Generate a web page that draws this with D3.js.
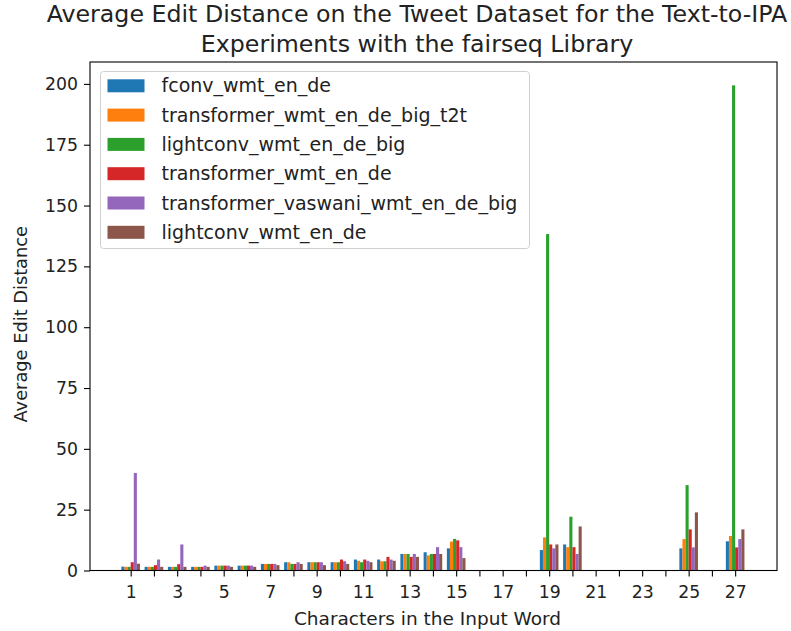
<!DOCTYPE html>
<html>
<head>
<meta charset="utf-8">
<script src="https://cdn.jsdelivr.net/npm/d3@7"></script>
<style>
  html, body { margin: 0; padding: 0; background: #fff; }
  svg { display: block; font-family: "DejaVu Sans", sans-serif; }
</style>
</head>
<body>
<svg id="chart" width="791" height="631"></svg>
<script>
// Word lengths (characters) for which an average was measured
const lengths = [1, 2, 3, 4, 5, 6, 7, 8, 9, 10, 11, 12, 13, 14, 15, 19, 20, 25, 27];

// Average edit distance per model, one value per entry of `lengths`
const fconvWmtEnDe =            [1.6, 1.5, 1.5, 1.5, 2.0, 2.0, 2.7, 3.4, 3.4, 3.4, 4.5, 4.5, 6.8, 7.5, 9.1, 8.4, 10.7, 9.1, 12.0];
const transformerWmtEnDeBigT2t = [1.5, 1.5, 1.5, 1.5, 2.0, 2.0, 2.7, 3.4, 3.4, 3.4, 4.0, 3.8, 6.8, 6.2, 11.9, 13.6, 9.6, 12.9, 14.2];
const lightconvWmtEnDeBig =     [1.5, 1.5, 1.5, 1.5, 2.0, 2.0, 2.7, 2.7, 3.4, 3.4, 3.4, 3.8, 6.8, 6.8, 13.0, 138.3, 22.1, 35.1, 199.4];
const transformerWmtEnDe =      [3.4, 2.2, 2.6, 1.5, 2.0, 2.0, 2.7, 2.7, 3.4, 4.5, 4.5, 5.6, 5.6, 6.8, 12.4, 10.7, 9.6, 16.9, 9.5];
const transformerVaswaniBig =   [40.1, 4.5, 10.7, 2.0, 2.0, 2.0, 2.7, 3.4, 3.4, 3.8, 4.0, 4.5, 6.8, 9.6, 9.6, 9.1, 6.8, 9.5, 12.9];
const lightconvWmtEnDe =        [2.8, 1.5, 1.5, 1.5, 1.5, 1.5, 2.2, 2.7, 2.2, 2.7, 3.4, 4.0, 5.6, 6.8, 5.1, 10.7, 18.1, 23.9, 16.9];

const seriesNames = [
  "fconv_wmt_en_de",
  "transformer_wmt_en_de_big_t2t",
  "lightconv_wmt_en_de_big",
  "transformer_wmt_en_de",
  "transformer_vaswani_wmt_en_de_big",
  "lightconv_wmt_en_de"
];
const seriesValues = [
  fconvWmtEnDe, transformerWmtEnDeBigT2t, lightconvWmtEnDeBig,
  transformerWmtEnDe, transformerVaswaniBig, lightconvWmtEnDe
];
const colors = ["#1f77b4", "#ff7f0e", "#2ca02c", "#d62728", "#9467bd", "#8c564b"];

const xTickValues = d3.range(1, 28);          // a tick at every length
const xTickLabels = d3.range(1, 28, 2);       // labels on odd lengths only
const yTickValues = d3.range(0, 201, 25);

const titleLines = [
  "Average Edit Distance on the Tweet Dataset for the Text-to-IPA",
  "Experiments with the fairseq Library"
];
const xLabel = "Characters in the Input Word";
const yLabel = "Average Edit Distance";

// ---- layout ----
const svg = d3.select("#chart");
const plot = { left: 90, right: 777, top: 62, bottom: 570.5 };

const x = d3.scaleLinear().domain([-0.75, 28.8]).range([plot.left, plot.right]);
const y = d3.scaleLinear().domain([0, 209]).range([plot.bottom, plot.top]);

const groupWidth = 0.8;
const barWidth = groupWidth / seriesNames.length;

// ---- bars ----
const bars = [];
seriesValues.forEach((vals, s) => {
  vals.forEach((v, i) => {
    bars.push({ s, len: lengths[i], v });
  });
});

svg.append("g")
  .selectAll("rect")
  .data(bars)
  .join("rect")
  .attr("x", d => x(d.len - groupWidth / 2 + d.s * barWidth))
  .attr("width", d => x(barWidth) - x(0))
  .attr("y", d => y(d.v))
  .attr("height", d => y(0) - y(d.v))
  .attr("fill", d => colors[d.s]);

// ---- axes ----
const xAxis = d3.axisBottom(x)
  .tickValues(xTickValues)
  .tickSize(6)
  .tickPadding(5)
  .tickFormat(d => xTickLabels.includes(d) ? d : "");

const yAxis = d3.axisLeft(y)
  .tickValues(yTickValues)
  .tickSize(6)
  .tickPadding(6)
  .tickFormat(d3.format("d"));

const gx = svg.append("g")
  .attr("transform", `translate(0,${plot.bottom})`)
  .call(xAxis);
const gy = svg.append("g")
  .attr("transform", `translate(${plot.left},0)`)
  .call(yAxis);

[gx, gy].forEach(g => {
  g.select(".domain").remove();
  g.selectAll(".tick line").attr("stroke", "#000").attr("stroke-width", 1.1);
  g.selectAll(".tick text")
    .attr("fill", "#222")
    .style("font-family", "'DejaVu Sans', sans-serif")
    .style("font-size", "17.3px");
});
gx.selectAll(".tick text").attr("dy", "0.95em");

// frame around the plotting area
svg.append("rect")
  .attr("x", plot.left)
  .attr("y", plot.top)
  .attr("width", plot.right - plot.left)
  .attr("height", plot.bottom - plot.top)
  .attr("fill", "none")
  .attr("stroke", "#000")
  .attr("stroke-width", 1.1);

// ---- labels ----
svg.append("text")
  .attr("x", (plot.left + plot.right) / 2 - 6)
  .attr("y", 625)
  .attr("text-anchor", "middle")
  .attr("fill", "#222")
  .style("font-size", "18.5px")
  .text(xLabel);

svg.append("text")
  .attr("transform", `translate(27,${(plot.top + plot.bottom) / 2 + 8}) rotate(-90)`)
  .attr("text-anchor", "middle")
  .attr("fill", "#222")
  .style("font-size", "17.8px")
  .text(yLabel);

const title = svg.append("text")
  .attr("text-anchor", "middle")
  .attr("fill", "#222")
  .style("font-size", "23.7px");
titleLines.forEach((line, i) => {
  title.append("tspan")
    .attr("x", 417)
    .attr("y", 22 + i * 30)
    .text(line);
});

// ---- legend ----
const legend = svg.append("g").attr("transform", "translate(100.5,71.5)");
legend.append("rect")
  .attr("width", 429)
  .attr("height", 177)
  .attr("rx", 3)
  .attr("fill", "#fff")
  .attr("fill-opacity", 0.8)
  .attr("stroke", "#d0d0d0");

const rows = legend.selectAll("g.row")
  .data(seriesNames)
  .join("g")
  .attr("class", "row")
  .attr("transform", (d, i) => `translate(0,${14.3 + i * 29.3})`);

rows.append("rect")
  .attr("x", 7)
  .attr("y", -6.5)
  .attr("width", 37)
  .attr("height", 13)
  .attr("fill", (d, i) => colors[i]);

rows.append("text")
  .attr("x", 61)
  .attr("dy", "0.35em")
  .attr("fill", "#222")
  .style("font-size", "19px")
  .text(d => d);
</script>
</body>
</html>
